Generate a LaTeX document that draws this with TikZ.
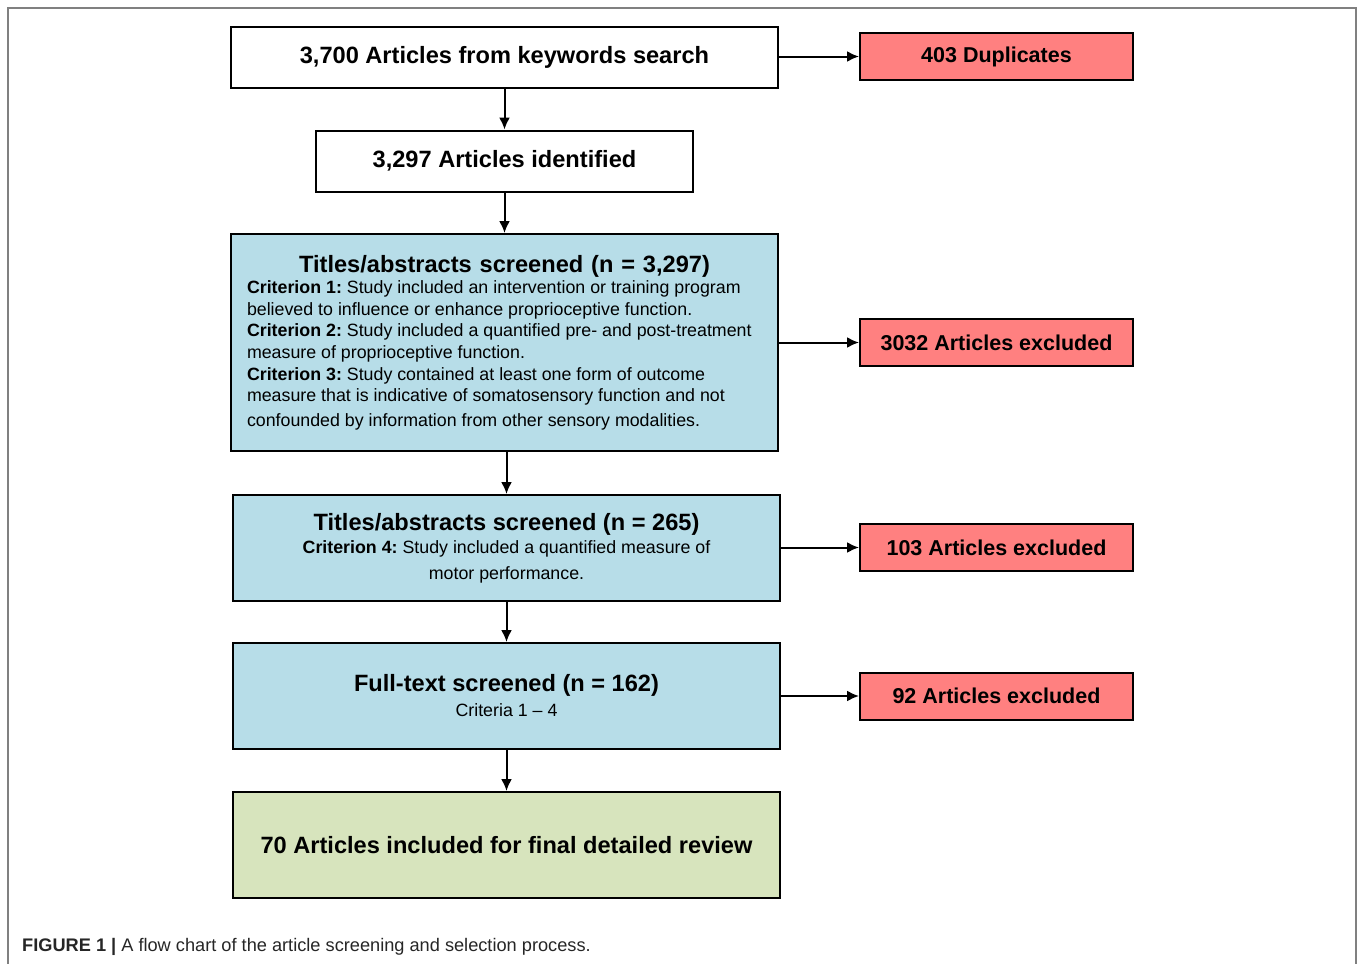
\documentclass[tikz,border=0pt]{standalone}
\usepackage{fontspec}
\setmainfont{Liberation Sans}
\usetikzlibrary{arrows.meta}
\definecolor{boxblue}{HTML}{B7DDE8}
\definecolor{boxred}{HTML}{FF8080}
\definecolor{boxgreen}{HTML}{D7E4BD}
\tikzset{
  flowbox/.style={draw, line width=2pt, inner sep=0pt,
    font=\fontsize{23.6}{28}\selectfont\bfseries},
  plainbox/.style={flowbox, fill=white},
  bluebox/.style={flowbox, fill=boxblue, minimum width=547, minimum height=106},
  redbox/.style={flowbox, fill=boxred, minimum width=273, minimum height=47,
    font=\fontsize{21.5}{25}\selectfont\bfseries},
  greenbox/.style={flowbox, fill=boxgreen, minimum width=547, minimum height=106},
  flow/.style={->, line width=2pt}
}
\newcommand{\crittext}{\fontsize{17.8}{21.6}\selectfont\mdseries\frenchspacing\spaceskip=0pt\xspaceskip=0pt}

\begin{document}
\begin{tikzpicture}[>={Latex[length=12pt,width=11pt]}, x=1pt, y=-1pt]
  \useasboundingbox (0,0) rectangle (1358,964);
  \draw[gray, line width=1.5pt] (8,964) -- (8,8) -- (1356,8) -- (1356,964);
  % main column
  \node[plainbox, minimum width=547, minimum height=61] (search) at (504.5,57.5)
    {3,700 Articles from keywords search};
  \node[plainbox, minimum width=377, minimum height=61] (identified) at (504.5,161)
    {3,297 Articles identified};
  \node[bluebox, minimum height=217, text width=515, align=left] (screenA) at (504.5,342.5)
    {{\centering Titles/abstracts screened (n = 3,297)\par}
     \raggedright\parfillskip=0pt plus 1fil\hyphenpenalty=10000\crittext
     \textbf{Criterion 1:} Study included an intervention or training program\\
     believed to influence or enhance proprioceptive function.\\
     \textbf{Criterion 2:} Study included a quantified pre- and post-treatment\\
     measure of proprioceptive function.\\
     \textbf{Criterion 3:} Study contained at least one form of outcome\\
     measure that is indicative of somatosensory function and not\\[3pt]
     confounded by information from other sensory modalities.\par};
  \node[bluebox, align=center] (screenB) at (506.5,548)
    {Titles/abstracts screened (n = 265)\\[-5pt]
     {\crittext\textbf{Criterion 4:} Study included a quantified measure of}\\[-2pt]
     {\crittext motor performance.}};
  \node[bluebox, align=center] (fulltext) at (506.5,696)
    {Full-text screened (n = 162)\\[-3pt]
     {\crittext Criteria 1 -- 4}};
  \node[greenbox] (included) at (506.5,845)
    {70 Articles included for final detailed review};
  % excluded column
  \node[redbox] (duplicates) at (996.5,56.5) {403 Duplicates};
  \node[redbox] (exclA) at (996.5,342.5) {3032 Articles excluded};
  \node[redbox] (exclB) at (996.5,547.5) {103 Articles excluded};
  \node[redbox] (exclC) at (996.5,696) {92 Articles excluded};
  % arrows
  \draw[flow] (search.south) -- (identified.north);
  \draw[flow] (identified) -- (screenA);
  \draw[flow] (screenB.north |- screenA.south) -- (screenB.north);
  \draw[flow] (screenB) -- (fulltext);
  \draw[flow] (fulltext) -- (included);
  \draw[flow] (search.east |- duplicates) -- (duplicates);
  \draw[flow] (screenA) -- (exclA);
  \draw[flow] (screenB.east |- exclB) -- (exclB);
  \draw[flow] (fulltext) -- (exclC);
  % caption
  \node[anchor=base west, inner sep=0pt, font=\fontsize{18.2}{21}\selectfont, text=black!85]
    (caption) at (22,951)
    {\textbf{FIGURE 1 |} A flow chart of the article screening and selection process.};
\end{tikzpicture}
\end{document}
